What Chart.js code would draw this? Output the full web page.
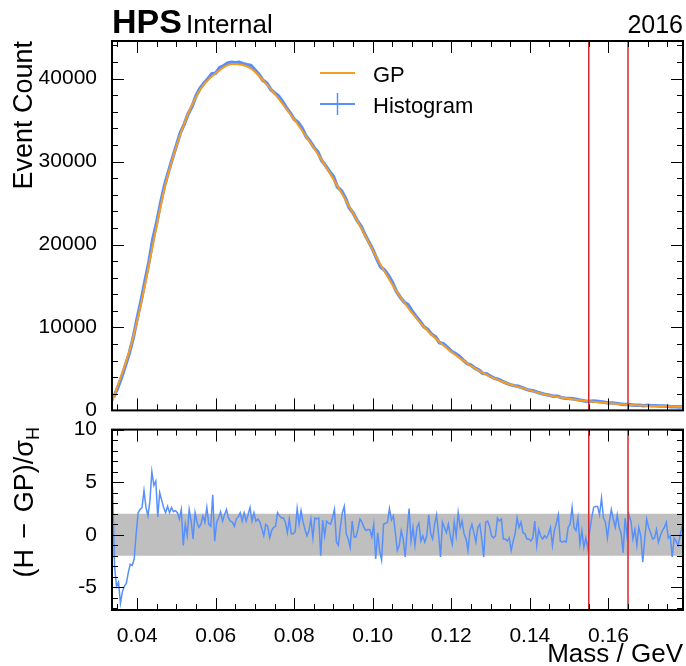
<!DOCTYPE html>
<html>
<head>
<meta charset="utf-8">
<script src="https://cdn.jsdelivr.net/npm/chart.js@4.4.1/dist/chart.umd.min.js"></script>
<style>
  body { margin: 0; width: 686px; height: 666px; overflow: hidden; position: relative; background: #fff;
         font-family: "Liberation Sans", Arial, sans-serif; color: #000; }
  .txt { position: absolute; white-space: nowrap; }
  .ylab { position: absolute; white-space: nowrap; width: 300px; text-align: right;
          transform-origin: 0 0; transform: rotate(-90deg); }
  canvas { position: absolute; left: 0; }
</style>
</head>
<body>
<canvas id="massChart" width="686" height="430" style="top:0;width:686px;height:430px"></canvas>
<canvas id="pullChart" width="686" height="256" style="top:410px;width:686px;height:256px"></canvas>

<div class="txt" style="left:112px;top:4px;font-size:34px;line-height:34px;font-weight:bold">HPS</div>
<div class="txt" style="left:186px;top:11px;font-size:26px;line-height:26px">Internal</div>
<div class="txt" style="right:3px;top:12px;font-size:25px;line-height:25px">2016</div>
<div class="ylab" style="left:10px;top:341px;font-size:27px;line-height:27px">Event Count</div>
<div class="ylab" style="left:11px;top:727px;font-size:27px;line-height:27px;word-spacing:3px">(H − GP)/σ<span style="font-size:18px;position:relative;top:6px">H</span></div>
<div class="txt" style="right:3px;top:640px;font-size:26px;line-height:26px">Mass / GeV</div>

<script>

// GP fit curve (mass in GeV, event count)
const gpMass = [0.0336, 0.0348, 0.0382, 0.0412, 0.0437, 0.0471, 0.0517, 0.0560, 0.0604, 0.0642,
    0.0688, 0.0731, 0.0782, 0.0815, 0.0866, 0.0917, 0.0968, 0.1019, 0.1070, 0.1121,
    0.1172, 0.1223, 0.1274, 0.1325, 0.1376, 0.1444, 0.1503, 0.1554, 0.1656, 0.1790];
const gpCount = [1020, 2640, 7440, 13300, 19200, 27000, 34200, 38640, 40800, 41760,
    41280, 39240, 36240, 34080, 30480, 26520, 22200, 17640, 13680, 10560,
    8160, 6240, 4680, 3540, 2760, 1860, 1380, 1080, 660, 420];

// histogram, bins of 1 MeV starting at 0.034
const histFirstBin = 0.034;
const histBinWidth = 0.001;
const histCount = [
    1590, 2670, 3940, 5385, 6886, 8755, 11070, 13193, 15606, 17878,
    20642, 22689, 25047, 27155, 28815, 30389, 31931, 33459, 34510, 35760,
    36662, 37929, 38807, 39428, 39980, 40573, 40664, 41336, 41530, 41865,
    41965, 41912, 41960, 41815, 41690, 41581, 41054, 40508, 39813, 39467,
    38721, 38269, 37913, 37254, 36493, 35867, 35098, 34730, 34049, 33057,
    32486, 31725, 31176, 30118, 29497, 28795, 28176, 26926, 26493, 25642,
    24446, 23810, 22908, 22221, 21207, 20304, 19395, 18302, 17303, 16922,
    16245, 15431, 14380, 13647, 13046, 12735, 11971, 11338, 10768, 10096,
    9753, 9180, 8858, 8161, 8019, 7610, 7140, 6851, 6542, 6081,
    5648, 5466, 5090, 4861, 4462, 4404, 4120, 3862, 3737, 3495,
    3281, 3107, 2990, 2912, 2743, 2567, 2418, 2335, 2167, 2036,
    1906, 1828, 1718, 1710, 1542, 1462, 1438, 1400, 1316, 1212,
    1136, 1088, 1123, 1100, 1057, 975, 904, 907, 846, 779,
    726, 710, 665, 629, 624, 562, 607, 561, 547, 518,
    521, 501, 449, 445, 425, 435];

// pull (H - GP)/sigma_H, bins of 0.5 MeV starting at 0.03375
const pullFirstBin = 0.03375;
const pullBinWidth = 0.0005;
const pullValue = [
    4.5, -3.0, -4.9, -4.5, -6.5, -5.4, -4.9, -4.6, -3.6, -2.8,
    -2.9, -2.3, 0.1, 2.1, 2.4, 2.6, 4.2, 2.6, 1.8, 3.2,
    6.0, 4.7, 5.1, 1.7, 4.0, 3.3, 2.6, 2.1, 2.7, 2.1,
    2.6, 2.2, 2.3, 2.1, 1.5, 2.4, -1.0, 1.0, -0.1, 2.4,
    1.3, -0.4, 2.1, 1.2, 0.7, 1.0, 1.8, 1.2, 2.6, 1.0,
    0.8, 3.8, -0.6, 1.2, 1.6, 2.2, 1.3, 1.9, 2.4, 1.6,
    1.3, 1.2, 0.8, 1.5, 1.7, 2.1, 1.3, 2.1, 1.3, 1.9,
    2.6, 1.3, 2.1, 1.3, 1.5, 1.2, 0.6, -0.1, 1.0, 0.8,
    -0.3, 0.4, 0.7, 0.8, 2.1, 1.8, 1.6, 1.6, 1.2, 0.2,
    1.5, 0.1, 0.1, 0.3, 2.5, 1.0, 2.3, 1.2, 0.5, -0.1,
    0.4, 1.5, -0.3, 1.6, 1.5, 1.6, -2.0, 1.4, -0.1, 1.3,
    1.1, 1.0, 1.6, 2.4, -0.7, -1.0, 0.7, 2.1, 2.7, 0.1,
    -0.4, -1.2, 1.3, -0.2, -0.2, 0.6, 1.5, 1.2, 0.7, 0.4,
    0.5, 0.5, -0.2, 1.0, -2.3, 0.2, -1.5, -2.4, 1.0, 1.1,
    1.2, 2.5, 1.4, 1.8, 0.2, -1.5, -1.0, 0.4, -0.4, -2.1,
    0.3, 2.5, -0.6, 0.7, -1.0, 0.7, 1.1, -0.6, -0.1, -0.7,
    -0.1, 1.9, 0.1, -0.4, 1.0, 1.9, 0.1, -2.1, 1.2, 0.7,
    0.2, 1.0, -0.1, -0.9, 1.2, -0.1, 2.1, 0.7, 1.3, 0.1,
    -0.4, -1.5, 0.4, 1.0, 0.2, -0.7, 0.7, 1.0, -0.4, -2.1,
    1.2, 1.3, 0.8, -0.1, -0.3, -0.1, 1.6, 1.3, 1.5, -0.4,
    -0.4, -0.6, -0.3, -1.5, -0.6, 0.1, 1.6, 0.7, 1.2, 0.2,
    0.1, -0.4, -0.4, -0.6, -0.3, 1.3, -1.0, 0.5, -0.1, -0.4,
    -0.1, -0.3, 0.1, 0.7, -1.0, 0.4, 1.1, 1.9, -0.6, -0.7,
    -0.6, -0.7, 0.7, 1.0, 2.6, 0.7, 0.4, 1.6, -0.9, 0.4,
    -1.2, -0.3, -1.3, 0.4, 1.6, 2.6, 2.7, 2.7, 1.9, 3.5,
    1.6, 1.2, -0.3, 1.2, 2.4, 1.5, 0.7, 1.9, 0.7, 0.1,
    -1.7, 1.6, -0.1, 1.9, 1.3, -0.4, 0.5, -1.0, 0.7, -0.1,
    -2.6, -0.4, 1.5, 0.7, 0.2, -0.4, -0.3, 0.5, -0.7, -0.1,
    0.4, 0.7, 1.2, -0.3, -0.1, -2.1, -0.3, -0.6, -1.0, -0.1,
    0.8];

// axes
const massRange = [0.0336, 0.179];
const countRange = [0, 44540];
const pullRange = [-7.15, 10];
const massTicks = [0.04, 0.06, 0.08, 0.10, 0.12, 0.14, 0.16];
const countTicks = [0, 10000, 20000, 30000, 40000];
const pullTicks = [-5, 0, 5, 10];
const massMinor = 0.005, countMinor = 2000, pullMinor = 1;

// signal window and +-2 sigma band
const windowEdges = [0.155, 0.165];
const bandLimits = [-2, 2];

const blue = "#5790fc";
const orange = "#f89c20";
const red = "#d9262e";
const FONT = '"Liberation Sans", Arial, sans-serif';

// ....... plugins: frame with inward ticks, window lines, legend .............

const frameTicks = {
    id: "frameTicks",
    afterDraw(chart, args, opts) {
        const { ctx, chartArea: a, scales } = chart;
        const xs = scales.x, ys = scales.y;
        ctx.save();
        ctx.strokeStyle = "#000";
        ctx.lineWidth = 1;
        function seg(x1, y1, x2, y2) {
            ctx.beginPath(); ctx.moveTo(x1, y1); ctx.lineTo(x2, y2); ctx.stroke();
        }
        function each(scale, step, majors, fn) {
            const k0 = Math.ceil(scale.min / step - 1e-6), k1 = Math.floor(scale.max / step + 1e-6);
            for (let k = k0; k <= k1; k++) {
                const v = k * step;
                const major = majors.some(m => Math.abs(m - v) < step / 10);
                fn(Math.round(scale.getPixelForValue(v)) + 0.5, major ? 12 : 6);
            }
        }
        each(xs, opts.xMinor, opts.xMajor, (px, len) => {
            seg(px, a.bottom, px, a.bottom - len);
            seg(px, a.top, px, a.top + len);
        });
        each(ys, opts.yMinor, opts.yMajor, (py, len) => {
            seg(a.left, py, a.left + len, py);
            seg(a.right, py, a.right - len, py);
        });
        ctx.lineWidth = 2;
        ctx.strokeRect(a.left, a.top, a.right - a.left, a.bottom - a.top);
        ctx.restore();
    }
};

const windowLines = {
    id: "windowLines",
    afterDatasetsDraw(chart) {
        const { ctx, chartArea: a, scales } = chart;
        ctx.save();
        ctx.strokeStyle = red;
        ctx.lineWidth = 1.5;
        for (let edge of windowEdges) {
            const px = scales.x.getPixelForValue(edge);
            ctx.beginPath(); ctx.moveTo(px, a.top); ctx.lineTo(px, a.bottom); ctx.stroke();
        }
        ctx.restore();
    }
};

const legendBox = {
    id: "legendBox",
    afterDraw(chart) {
        const { ctx, chartArea: a } = chart;
        const x0 = a.left + 208, x1 = a.left + 243, tx = a.left + 261;
        const rows = [a.top + 32, a.top + 63];
        ctx.save();
        ctx.font = "22px " + FONT;
        ctx.textBaseline = "alphabetic";
        chart.data.datasets.forEach((d, i) => {
            const y = rows[i];
            ctx.strokeStyle = d.borderColor;
            ctx.lineWidth = 2;
            ctx.beginPath(); ctx.moveTo(x0, y); ctx.lineTo(x1, y); ctx.stroke();
            if (d.label === "Histogram") {
                // error bar cross
                ctx.lineWidth = 1.5;
                const xm = (x0 + x1) / 2;
                ctx.beginPath(); ctx.moveTo(xm, y - 11); ctx.lineTo(xm, y + 11); ctx.stroke();
            }
            ctx.fillStyle = "#000";
            ctx.fillText(d.label, tx, y + 8.5);
        });
        ctx.restore();
    }
};

// ....... top panel: histogram and GP .............

const histPoints = histCount.map((c, i) => ({ x: histFirstBin + i * histBinWidth, y: c }));
const gpPoints = gpMass.map((m, i) => ({ x: m, y: gpCount[i] }));

function yAxis(range, ticks, fmt) {
    return {
        type: "linear", min: range[0], max: range[1],
        grid: { display: false }, border: { display: false },
        afterFit: s => { s.width = 112; },
        afterBuildTicks: s => { s.ticks = ticks.map(v => ({ value: v })); },
        ticks: { color: "#000", padding: 7, font: { family: FONT, size: 21 }, callback: fmt }
    };
}

new Chart("massChart", {
    type: "line",
    data: {
        datasets: [
            { label: "GP", data: gpPoints, borderColor: orange, borderWidth: 2, pointRadius: 0,
              cubicInterpolationMode: "monotone", fill: false },
            { label: "Histogram", data: histPoints, borderColor: blue, borderWidth: 3.5, pointRadius: 0,
              fill: false }
        ]
    },
    options: {
        responsive: false, animation: false, devicePixelRatio: 1,
        layout: { padding: { top: 41, right: 3, bottom: 18, left: 0 } },
        scales: {
            x: { type: "linear", min: massRange[0], max: massRange[1],
                 grid: { display: false }, border: { display: false },
                 ticks: { display: false }, afterFit: s => { s.height = 0; } },
            y: yAxis(countRange, countTicks, v => String(v))
        },
        plugins: {
            legend: { display: false }, tooltip: { enabled: false },
            frameTicks: { xMinor: massMinor, xMajor: massTicks, yMinor: countMinor, yMajor: countTicks }
        }
    },
    plugins: [windowLines, frameTicks, legendBox]
});

// ....... bottom panel: pulls with the +-2 band .............

const pullPoints = pullValue.map((p, i) => ({ x: pullFirstBin + i * pullBinWidth, y: p }));

new Chart("pullChart", {
    type: "line",
    data: {
        datasets: [
            { label: "pull", data: pullPoints, borderColor: blue, borderWidth: 1.5, pointRadius: 0, fill: false },
            { label: "band+", data: massRange.map(m => ({ x: m, y: bandLimits[1] })), borderWidth: 0,
              pointRadius: 0, backgroundColor: "#bfbfbf", fill: "+1" },
            { label: "band-", data: massRange.map(m => ({ x: m, y: bandLimits[0] })), borderWidth: 0,
              pointRadius: 0, fill: false }
        ]
    },
    options: {
        responsive: false, animation: false, devicePixelRatio: 1,
        layout: { padding: { top: 17, right: 3, bottom: 0, left: 0 } },
        scales: {
            x: { type: "linear", min: massRange[0], max: massRange[1],
                 grid: { display: false }, border: { display: false },
                 afterFit: s => { s.height = 56; },
                 afterBuildTicks: s => { s.ticks = massTicks.map(v => ({ value: v })); },
                 ticks: { color: "#000", padding: 6, maxRotation: 0, font: { family: FONT, size: 21 },
                          callback: v => v.toFixed(2) } },
            y: yAxis(pullRange, pullTicks, v => String(v))
        },
        plugins: {
            legend: { display: false }, tooltip: { enabled: false },
            frameTicks: { xMinor: massMinor, xMajor: massTicks, yMinor: pullMinor, yMajor: pullTicks }
        }
    },
    plugins: [windowLines, frameTicks]
});
</script>
</body>
</html>
